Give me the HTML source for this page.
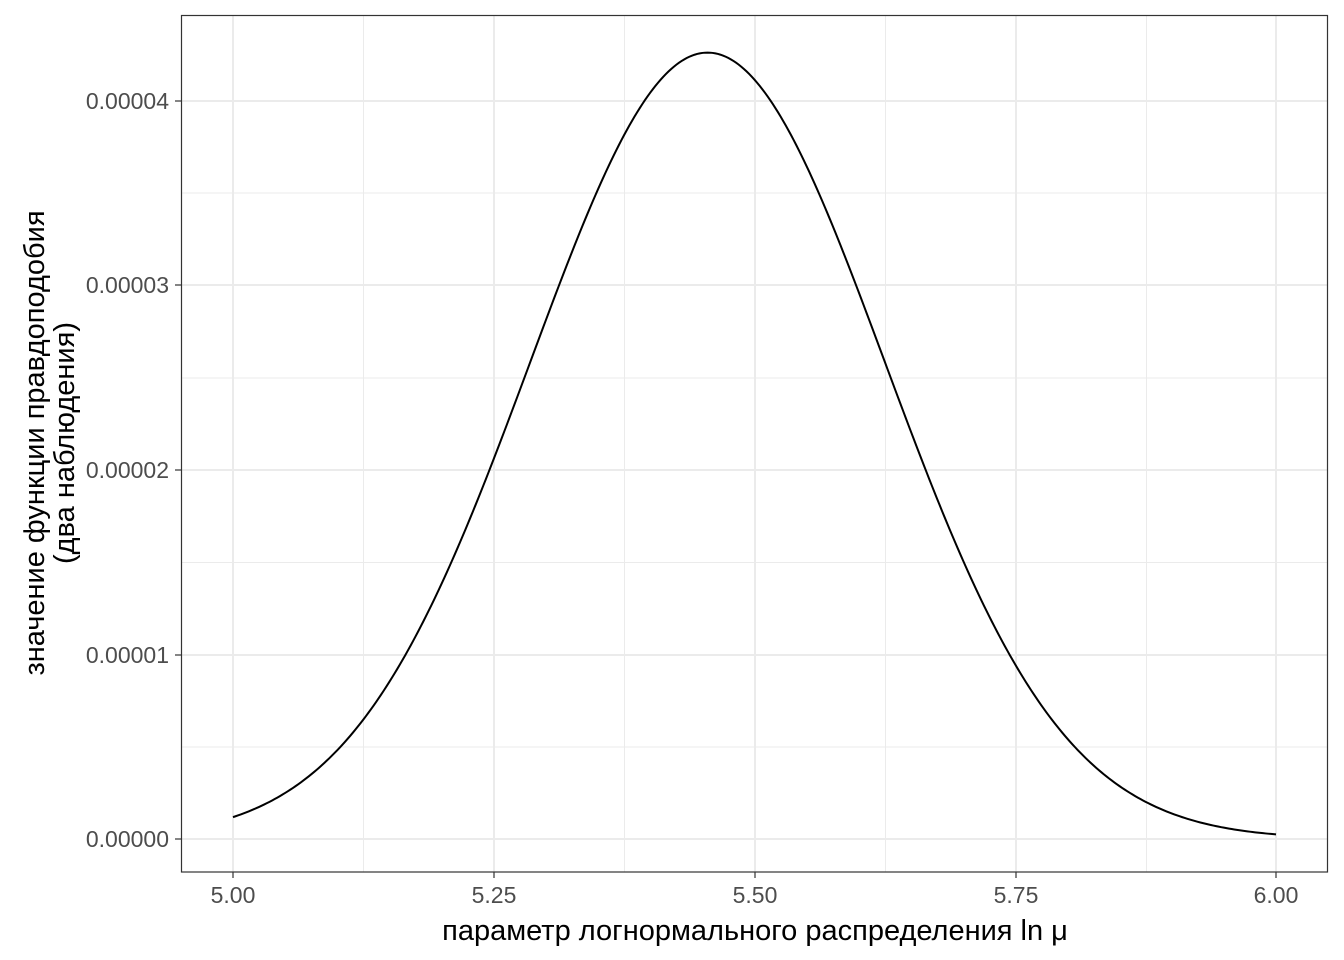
<!DOCTYPE html>
<html><head><meta charset="utf-8">
<style>
html,body{margin:0;padding:0;background:#fff;}
svg{display:block;font-family:"Liberation Sans",sans-serif;}
</style></head>
<body>
<svg id="s" width="1344" height="960" viewBox="0 0 1344 960" xmlns="http://www.w3.org/2000/svg">
<rect x="0" y="0" width="1344" height="960" fill="#fff"/>
<g stroke="#ebebeb" stroke-width="1">
<line x1="363.5" y1="15" x2="363.5" y2="872"/>
<line x1="624.5" y1="15" x2="624.5" y2="872"/>
<line x1="885.5" y1="15" x2="885.5" y2="872"/>
<line x1="1146.5" y1="15" x2="1146.5" y2="872"/>
<line x1="181" y1="747" x2="1328" y2="747"/>
<line x1="181" y1="562.5" x2="1328" y2="562.5"/>
<line x1="181" y1="378" x2="1328" y2="378"/>
<line x1="181" y1="193" x2="1328" y2="193"/>
</g>
<g stroke="#ebebeb" stroke-width="2">
<line x1="233" y1="15" x2="233" y2="872"/>
<line x1="494" y1="15" x2="494" y2="872"/>
<line x1="755" y1="15" x2="755" y2="872"/>
<line x1="1016" y1="15" x2="1016" y2="872"/>
<line x1="1276" y1="15" x2="1276" y2="872"/>
<line x1="181" y1="839" x2="1328" y2="839"/>
<line x1="181" y1="655" x2="1328" y2="655"/>
<line x1="181" y1="470" x2="1328" y2="470"/>
<line x1="181" y1="285" x2="1328" y2="285"/>
<line x1="181" y1="101" x2="1328" y2="101"/>
</g>
<path id="curve" d="" fill="none" stroke="#000" stroke-width="2"/>
<rect x="181.5" y="15.5" width="1146" height="856.5" fill="none" stroke="#333" stroke-width="1.2"/>
<g stroke="#333" stroke-width="1.2">
<line x1="233" y1="872" x2="233" y2="878"/><line x1="494" y1="872" x2="494" y2="878"/>
<line x1="755" y1="872" x2="755" y2="878"/><line x1="1016" y1="872" x2="1016" y2="878"/>
<line x1="1276" y1="872" x2="1276" y2="878"/>
<line x1="175" y1="839" x2="181" y2="839"/><line x1="175" y1="655" x2="181" y2="655"/>
<line x1="175" y1="470" x2="181" y2="470"/><line x1="175" y1="285" x2="181" y2="285"/>
<line x1="175" y1="101" x2="181" y2="101"/>
</g>
<g fill="#4d4d4d" font-size="23" text-anchor="middle">
<text x="233" y="903">5.00</text><text x="494" y="903">5.25</text>
<text x="755" y="903">5.50</text><text x="1016" y="903">5.75</text>
<text x="1276" y="903">6.00</text>
</g>
<g fill="#4d4d4d" font-size="23" text-anchor="end">
<text x="169" y="847">0.00000</text><text x="169" y="663">0.00001</text>
<text x="169" y="478">0.00002</text><text x="169" y="293">0.00003</text>
<text x="169" y="109">0.00004</text>
</g>
<text x="755" y="940" font-size="29" text-anchor="middle" fill="#000">параметр логнормального распределения ln μ</text>
<g transform="translate(44,443) rotate(-90)" font-size="29" text-anchor="middle" fill="#000">
<text x="0" y="0">значение функции правдоподобия</text>
<text x="0" y="30">(два наблюдения)</text>
</g>
</svg>
<script>
var d="",m=5.455,s=0.17,p=4.26e-5;
for(var i=0;i<=400;i++){var x=5+i/400,v=p*Math.exp(-(x-m)*(x-m)/(2*s*s));
var px=233+(x-5)*1043,py=839-v*1.846e7;d+=(i?"L":"M")+px.toFixed(2)+" "+py.toFixed(2);}
document.getElementById("curve").setAttribute("d",d);
</script>
</body></html>
